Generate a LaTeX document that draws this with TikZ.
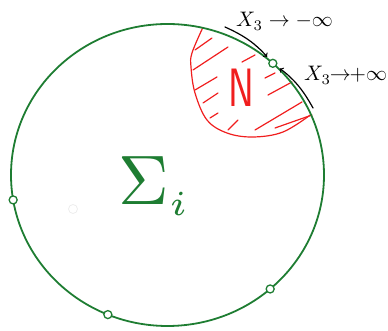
\documentclass[tikz,border=0pt]{standalone}
\usepackage{amsmath, amssymb}
\usepackage{graphicx}
\usetikzlibrary{positioning, calc}
\definecolor{curvegreen}{RGB}{30,125,50}
\definecolor{regionred}{RGB}{240,30,30}
\tikzset{
  boundary/.style={draw=curvegreen, line width=1.8pt},
  puncture/.style={circle, draw=curvegreen, fill=white, line width=1.3pt, minimum size=8pt, inner sep=0pt},
  region/.style={draw=regionred, line width=1.2pt, line cap=round},
  pointer/.style={draw=black, line width=1.2pt, ->, shorten >=4pt, line cap=round},
  limit/.style={inner sep=0pt, anchor=base west},
}
\begin{document}
\begin{tikzpicture}[x=1pt, y=1pt]
\clip (0,0) rectangle (388,331);
\coordinate (c) at (167.5,156);
\coordinate (ntop) at ($(c)+(77:156.5 and 151)$);
\coordinate (nend) at ($(c)+(23.6:156.5 and 151)$);
% the region N
\draw[region] plot[smooth, tension=0.6] coordinates {(ntop) (192,278) (191,264) (195,238) (207,211) (227,198) (253,194) (283,199) (nend)};
\foreach \xa/\ya/\xb/\yb in {195/281/212/293, 193/261/228/284, 242/269/255/276,
  195/241/217/254, 265/253/275/258, 203/228/218/238, 268/236/292/249,
  210/213/218/218, 228/201/238/211, 255/201/302/229, 275/203/312/216}
  \draw[region] (\xa,\ya) -- (\xb,\yb);
\node[text=regionred, font=\fontsize{54}{54}\selectfont\sffamily, inner sep=0pt] (n) at (241,243) {\scalebox{0.72}[1]{N}};
% the surface
\draw[boundary] (c) ellipse [x radius=156.5, y radius=151];
\node[puncture] (ptop) at ($(c)+(47.7:156.5 and 151)$) {};
\node[puncture] (pright) at ($(c)+(-49:156.5 and 151)$) {};
\node[puncture] (pbottom) at ($(c)+(-112.4:156.5 and 151)$) {};
\node[puncture] (pleft) at ($(c)+(189.5:156.5 and 151)$) {};
\node[circle, draw=black!7, line width=0.8pt, minimum size=9pt, inner sep=0pt] (ghost) at (73,122) {};
\node[text=curvegreen, anchor=base west, inner sep=0pt] (sigma) at (118,126) {\scalebox{7}{$\Sigma_{\scriptscriptstyle i}$}};
% ends
\node[limit] (minus) at (236,304) {\scalebox{2.1}{$X_3 \to -\infty$}};
\node[limit] (plus) at (304,250) {\scalebox{2.1}{$X_3\!\!\to\!\!+\infty$}};
\coordinate (fromminus) at (225,304);
\coordinate (fromplus) at (313,223);
\draw[pointer] (fromminus) to[bend left=12] (ptop);
\draw[pointer] (fromplus) to[bend right=12] (ptop);
\end{tikzpicture}
\end{document}
